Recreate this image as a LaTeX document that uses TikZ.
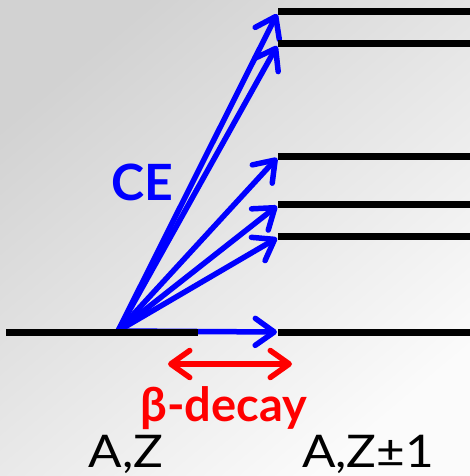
\documentclass[tikz,border=0pt]{standalone}
\usepackage{fontspec}
\setmainfont{Lato}
\usetikzlibrary{arrows.meta}
\definecolor{bgdark}{HTML}{D2D2D2}
\definecolor{bglight}{HTML}{FBFBFB}
\definecolor{ceblue}{HTML}{0000FF}
\definecolor{decred}{HTML}{FF0000}
\tikzset{
  level/.style={line width=7pt, black},
  barb/.style={line width=5.5pt, line cap=round},
  cearrow/.style={barb, ceblue,
    -{Straight Barb[length=19pt, width=27pt, line cap=round, round]}},
  decarrow/.style={barb, decred,
    {Straight Barb[length=19pt, width=27pt, line cap=round, round]}-{Straight Barb[length=19pt, width=27pt, line cap=round, round]}},
  lbl/.style={inner sep=0pt, xscale=1.1, font=\fontsize{45}{52}\selectfont},
  blbl/.style={inner sep=0pt, font=\fontsize{50}{58}\selectfont\bfseries},
  dlbl/.style={inner sep=0pt, font=\fontsize{47}{54}\selectfont\bfseries},
}
\begin{document}
\begin{tikzpicture}[x=1pt, y=-1pt]
\useasboundingbox (0,0) rectangle (470,476);
\shade[top color=bgdark, bottom color=bglight, shading angle=40] (0,0) rectangle (470,476);
% coordinates
\coordinate (O) at (118,331);
\coordinate (G0) at (6,332);
\coordinate (G1) at (198,332);
\foreach \n/\y in {1/12,2/44,3/156,4/204,5/236,6/332}{
  \coordinate (L\n) at (278,\y);
  \coordinate (R\n) at (470,\y);
}
\coordinate (T1) at (277,14);
\coordinate (T2) at (277,46);
\coordinate (T3) at (277,158);
\coordinate (T4) at (277,206);
\coordinate (T5) at (277,238);
\coordinate (T6) at (277,332);
% blue arrows
\foreach \n in {1,...,6}{
  \draw[cearrow] (O) -- (T\n);
}
% levels
\draw[level] (G0) -- (G1);
\foreach \n in {1,...,6}{
  \draw[level] (L\n) -- (R\n);
}
% red arrow
\coordinate (D1) at (168,364);
\coordinate (D2) at (292,364);
\draw[decarrow] (D1) -- (D2);
% labels
\node[blbl, text=ceblue, anchor=base] (ce) at (142,200) {CE};
\node[dlbl, text=decred, anchor=base] (bd) at (224,421) {β-decay};
\node[lbl, anchor=base] (az) at (126,467) {A,Z};
\node[lbl, anchor=base] (az1) at (368,467) {A,Z±1};
\end{tikzpicture}
\end{document}
